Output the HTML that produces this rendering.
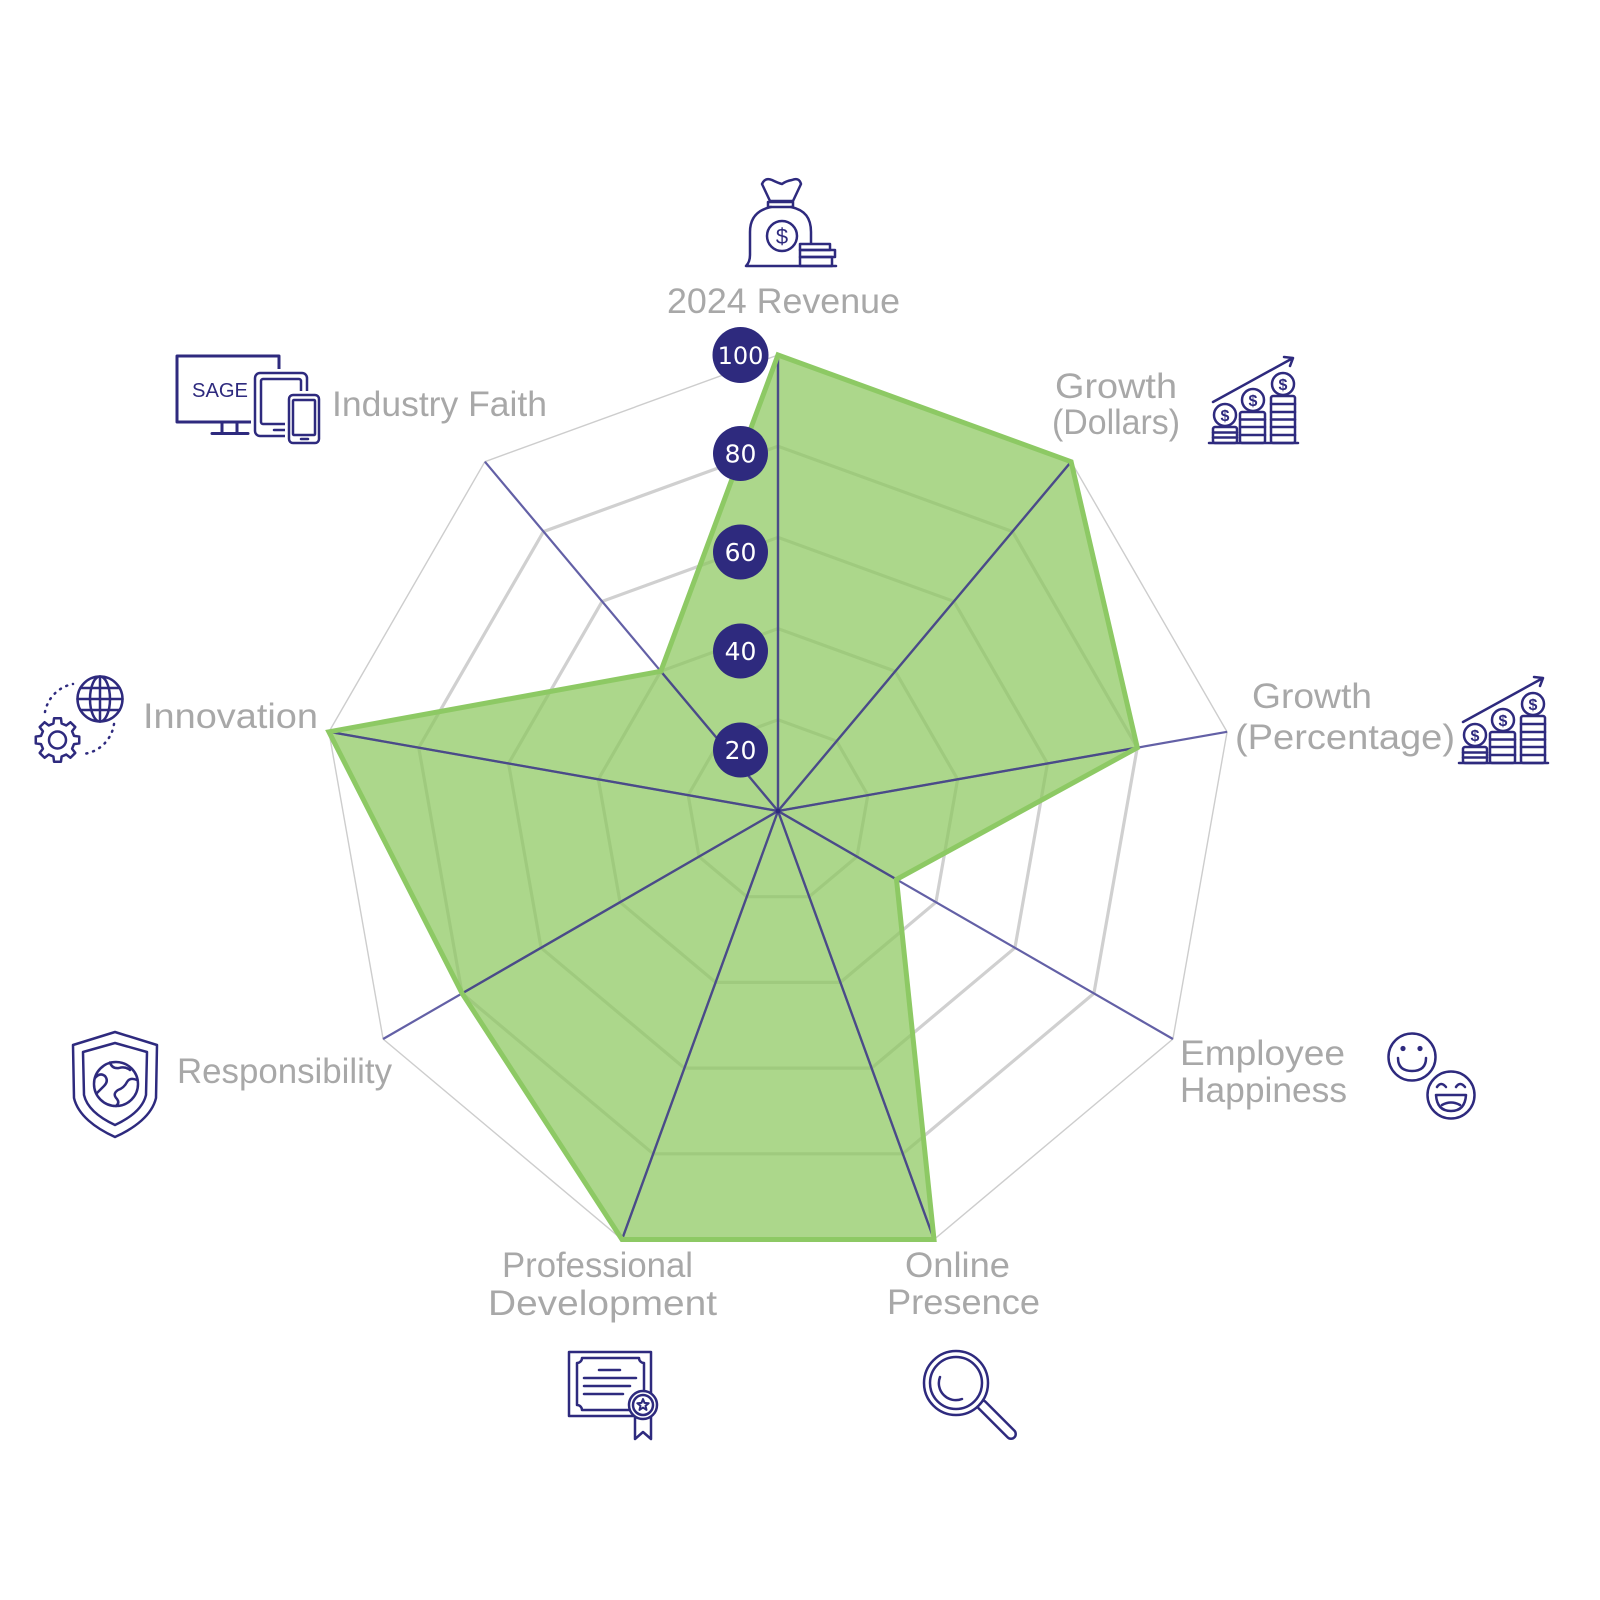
<!DOCTYPE html>
<html>
<head>
<meta charset="utf-8">
<style>
html,body{margin:0;padding:0;background:#fff;}
svg{display:block;}
.lbl{font-family:"Liberation Sans",sans-serif;font-size:35px;fill:#a8a8a8;}
.num{font-family:"DejaVu Sans","Liberation Sans",sans-serif;font-size:25px;fill:#fff;text-anchor:middle;}
.ic{fill:none;stroke:#2e2a7e;stroke-width:2.5;stroke-linecap:round;stroke-linejoin:round;}
.icw{fill:#fff;stroke:#2e2a7e;stroke-width:2.5;stroke-linecap:round;stroke-linejoin:round;}
</style>
</head>
<body>
<svg width="1600" height="1600" viewBox="0 0 1600 1600" xmlns="http://www.w3.org/2000/svg">
<defs>
<clipPath id="dataclip">
<polygon points="778,355 1071.1,461.7 1137.3,747.7 896.5,879.4 934,1239.5 622,1239.5 462.1,993.4 328.9,731.8 660.8,671.3"/>
</clipPath>
</defs>
<rect width="1600" height="1600" fill="#fff"/>

<!-- grid rings -->
<g transform="translate(778,811)" fill="none">
<polygon transform="scale(456)" vector-effect="non-scaling-stroke" stroke="#cdcdcd" stroke-width="1.4" points="0,-1 0.6428,-0.7660 0.9848,-0.1736 0.8660,0.5 0.3420,0.9397 -0.3420,0.9397 -0.8660,0.5 -0.9848,-0.1736 -0.6428,-0.7660"/>
<polygon transform="scale(364.8)" vector-effect="non-scaling-stroke" stroke="#d0d0d0" stroke-width="3.2" points="0,-1 0.6428,-0.7660 0.9848,-0.1736 0.8660,0.5 0.3420,0.9397 -0.3420,0.9397 -0.8660,0.5 -0.9848,-0.1736 -0.6428,-0.7660"/>
<polygon transform="scale(273.6)" vector-effect="non-scaling-stroke" stroke="#d0d0d0" stroke-width="3.2" points="0,-1 0.6428,-0.7660 0.9848,-0.1736 0.8660,0.5 0.3420,0.9397 -0.3420,0.9397 -0.8660,0.5 -0.9848,-0.1736 -0.6428,-0.7660"/>
<polygon transform="scale(182.4)" vector-effect="non-scaling-stroke" stroke="#d0d0d0" stroke-width="3.2" points="0,-1 0.6428,-0.7660 0.9848,-0.1736 0.8660,0.5 0.3420,0.9397 -0.3420,0.9397 -0.8660,0.5 -0.9848,-0.1736 -0.6428,-0.7660"/>
<polygon transform="scale(91.2)" vector-effect="non-scaling-stroke" stroke="#d0d0d0" stroke-width="3.2" points="0,-1 0.6428,-0.7660 0.9848,-0.1736 0.8660,0.5 0.3420,0.9397 -0.3420,0.9397 -0.8660,0.5 -0.9848,-0.1736 -0.6428,-0.7660"/>
</g>

<!-- data fill -->
<polygon fill="#8cc85e" fill-opacity="0.72" points="778,355 1071.1,461.7 1137.3,747.7 896.5,879.4 934,1239.5 622,1239.5 462.1,993.4 328.9,731.8 660.8,671.3"/>

<!-- axes -->
<g stroke="#6360a6" stroke-width="2.2">
<line x1="778" y1="811" x2="778" y2="355"/>
<line x1="778" y1="811" x2="1071.1" y2="461.7"/>
<line x1="778" y1="811" x2="1227.1" y2="731.8"/>
<line x1="778" y1="811" x2="1172.9" y2="1039"/>
<line x1="778" y1="811" x2="934" y2="1239.5"/>
<line x1="778" y1="811" x2="622" y2="1239.5"/>
<line x1="778" y1="811" x2="383.1" y2="1039"/>
<line x1="778" y1="811" x2="328.9" y2="731.8"/>
<line x1="778" y1="811" x2="484.9" y2="461.7"/>
</g>
<g stroke="#4a4b88" stroke-width="2.3" clip-path="url(#dataclip)">
<line x1="778" y1="811" x2="778" y2="355"/>
<line x1="778" y1="811" x2="1071.1" y2="461.7"/>
<line x1="778" y1="811" x2="1227.1" y2="731.8"/>
<line x1="778" y1="811" x2="1172.9" y2="1039"/>
<line x1="778" y1="811" x2="934" y2="1239.5"/>
<line x1="778" y1="811" x2="622" y2="1239.5"/>
<line x1="778" y1="811" x2="383.1" y2="1039"/>
<line x1="778" y1="811" x2="328.9" y2="731.8"/>
<line x1="778" y1="811" x2="484.9" y2="461.7"/>
</g>
<circle cx="778" cy="811" r="2.5" fill="#2e2a7e"/>

<!-- data stroke -->
<polygon fill="none" stroke="#8dc964" stroke-width="5" stroke-linejoin="miter" stroke-miterlimit="3" points="778,355 1071.1,461.7 1137.3,747.7 896.5,879.4 934,1239.5 622,1239.5 462.1,993.4 328.9,731.8 660.8,671.3"/>

<!-- scale markers -->
<g fill="#2e2a7e">
<circle cx="740.5" cy="355" r="28"/>
<circle cx="740.5" cy="453.5" r="27.5"/>
<circle cx="740.5" cy="552" r="27.5"/>
<circle cx="740.5" cy="651" r="27.5"/>
<circle cx="740.5" cy="750" r="27.5"/>
</g>
<text class="num" x="740.5" y="364" style="font-size:24px">100</text>
<text class="num" x="740.5" y="462.5">80</text>
<text class="num" x="740.5" y="561">60</text>
<text class="num" x="740.5" y="660">40</text>
<text class="num" x="740.5" y="759">20</text>

<!-- labels -->
<text class="lbl" x="667" y="313" textLength="233" lengthAdjust="spacingAndGlyphs">2024 Revenue</text>
<text class="lbl" x="332" y="416" textLength="215" lengthAdjust="spacingAndGlyphs">Industry Faith</text>
<text class="lbl" x="1055" y="398" textLength="122" lengthAdjust="spacingAndGlyphs">Growth</text>
<text class="lbl" x="1052" y="434" textLength="128" lengthAdjust="spacingAndGlyphs">(Dollars)</text>
<text class="lbl" x="1252" y="708" textLength="120" lengthAdjust="spacingAndGlyphs">Growth</text>
<text class="lbl" x="1235" y="749" textLength="220" lengthAdjust="spacingAndGlyphs">(Percentage)</text>
<text class="lbl" x="143" y="728" textLength="175" lengthAdjust="spacingAndGlyphs">Innovation</text>
<text class="lbl" x="177" y="1083" textLength="215" lengthAdjust="spacingAndGlyphs">Responsibility</text>
<text class="lbl" x="1180" y="1065" textLength="165" lengthAdjust="spacingAndGlyphs">Employee</text>
<text class="lbl" x="1180" y="1102" textLength="167" lengthAdjust="spacingAndGlyphs">Happiness</text>
<text class="lbl" x="502" y="1277" textLength="191" lengthAdjust="spacingAndGlyphs">Professional</text>
<text class="lbl" x="488" y="1315" textLength="229" lengthAdjust="spacingAndGlyphs">Development</text>
<text class="lbl" x="905" y="1277" textLength="105" lengthAdjust="spacingAndGlyphs">Online</text>
<text class="lbl" x="887" y="1314" textLength="153" lengthAdjust="spacingAndGlyphs">Presence</text>

<!-- money bag icon -->
<g class="ic">
<path d="M762,184 Q765,177 772,180 Q778,183 782,184 Q786,181 792,180 Q799,177 801,184 L793,201 L770,201 Z"/>
<rect x="768" y="202" width="25" height="5"/>
<path d="M771,207 C757,210 750,218 750,232 L750,255 Q750,262 746,266 L836,266"/>
<path d="M791,207 C805,210 811,218 811,232 L811,243"/>
<rect x="800" y="244" width="30" height="6"/>
<rect x="800" y="250" width="35" height="7"/>
<rect x="800" y="257" width="32" height="9"/>
<circle cx="782" cy="236" r="15"/>
</g>
<text x="782" y="244" text-anchor="middle" style="font-family:'Liberation Sans',sans-serif;font-size:22px;fill:#2e2a7e">$</text>

<!-- industry faith icon -->
<g class="ic">
<rect x="177" y="356" width="102" height="66" stroke-width="3"/>
<path d="M222,422 L222,433 M237,422 L237,433 M212,433.5 L248,433.5" stroke-width="3"/>
<rect x="255" y="373" width="52" height="63" rx="5" fill="#fff" stroke="#fff" stroke-width="8"/>
<rect x="255" y="373" width="52" height="63" rx="5" fill="#fff"/>
<rect x="261" y="379" width="40" height="45" rx="2"/>
<path d="M274,430 L285,430"/>
<rect x="289" y="395" width="30" height="48" rx="4" fill="#fff" stroke="#fff" stroke-width="8"/>
<rect x="289" y="395" width="30" height="48" rx="4" fill="#fff"/>
<rect x="293" y="400" width="22" height="35" rx="1"/>
<path d="M301,439 L308,439"/>
</g>
<text x="192" y="397" textLength="56" lengthAdjust="spacingAndGlyphs" style="font-family:'Liberation Sans',sans-serif;font-size:20px;fill:#2e2a7e">SAGE</text>

<!-- growth dollars icon -->
<g id="growth">
<g class="ic">
<path d="M1213,402 L1293,358 M1284,357 L1293,358 L1290,366"/>
<path d="M1209,443 L1298,443"/>
<rect x="1213" y="427" width="24" height="16" rx="2"/>
<path d="M1213,432.5 L1237,432.5 M1213,437.5 L1237,437.5"/>
<circle cx="1225" cy="415" r="11"/>
<rect x="1240" y="412" width="25" height="31" rx="2"/>
<path d="M1240,419.5 L1265,419.5 M1240,427 L1265,427 M1240,435 L1265,435"/>
<circle cx="1253" cy="400" r="11"/>
<rect x="1271" y="396" width="24" height="47" rx="2"/>
<path d="M1271,404 L1295,404 M1271,412 L1295,412 M1271,419.5 L1295,419.5 M1271,427 L1295,427 M1271,435 L1295,435"/>
<circle cx="1283" cy="384" r="11"/>
</g>
<g style="font-family:'Liberation Sans',sans-serif;font-size:16px;font-weight:bold;fill:#2e2a7e" text-anchor="middle">
<text x="1225" y="421">$</text>
<text x="1253" y="406">$</text>
<text x="1283" y="390">$</text>
</g>
</g>
<!-- growth percentage icon -->
<g transform="translate(250,320)">
<g class="ic">
<path d="M1213,402 L1293,358 M1284,357 L1293,358 L1290,366"/>
<path d="M1209,443 L1298,443"/>
<rect x="1213" y="427" width="24" height="16" rx="2"/>
<path d="M1213,432.5 L1237,432.5 M1213,437.5 L1237,437.5"/>
<circle cx="1225" cy="415" r="11"/>
<rect x="1240" y="412" width="25" height="31" rx="2"/>
<path d="M1240,419.5 L1265,419.5 M1240,427 L1265,427 M1240,435 L1265,435"/>
<circle cx="1253" cy="400" r="11"/>
<rect x="1271" y="396" width="24" height="47" rx="2"/>
<path d="M1271,404 L1295,404 M1271,412 L1295,412 M1271,419.5 L1295,419.5 M1271,427 L1295,427 M1271,435 L1295,435"/>
<circle cx="1283" cy="384" r="11"/>
</g>
<g style="font-family:'Liberation Sans',sans-serif;font-size:16px;font-weight:bold;fill:#2e2a7e" text-anchor="middle">
<text x="1225" y="421">$</text>
<text x="1253" y="406">$</text>
<text x="1283" y="390">$</text>
</g>
</g>

<!-- innovation icon -->
<g class="ic">
<path d="M45,712 A35,35 0 0 1 73,684" stroke-dasharray="1 6"/>
<path d="M114,724 A35,35 0 0 1 83,754" stroke-dasharray="1 6"/>
<circle cx="100" cy="699" r="22.5"/>
<ellipse cx="100" cy="699" rx="10" ry="22.5"/>
<path d="M100,676.5 L100,721.5 M77.5,699 L122.5,699 M80.4,688 L119.6,688 M80.4,710 L119.6,710"/>
<polygon transform="translate(57.5,740)" points="16.5,-4.11 21.73,-3.44 21.73,3.44 16.5,4.11 14.57,8.76 17.8,12.93 12.93,17.8 8.76,14.57 4.11,16.5 3.44,21.73 -3.44,21.73 -4.11,16.5 -8.76,14.57 -12.93,17.8 -17.8,12.93 -14.57,8.76 -16.5,4.11 -21.73,3.44 -21.73,-3.44 -16.5,-4.11 -14.57,-8.76 -17.8,-12.93 -12.93,-17.8 -8.76,-14.57 -4.11,-16.5 -3.44,-21.73 3.44,-21.73 4.11,-16.5 8.76,-14.57 12.93,-17.8 17.8,-12.93 14.57,-8.76"/>
<circle cx="57.5" cy="740" r="8.5"/>
</g>

<!-- responsibility icon -->
<g class="ic">
<path d="M115,1032 L157,1045 L156,1098 C152,1115 135,1128 115,1137 C95,1128 78,1115 74,1098 L73,1045 Z"/>
<path d="M115,1043 L147,1052 L146,1095 C143,1108 130,1118 115,1125 C100,1118 87,1108 84,1095 L83,1052 Z"/>
<circle cx="116" cy="1084" r="22"/>
<path d="M95,1078 Q100,1072 105,1076 Q109,1081 104,1086 Q100,1090 97,1093"/>
<path d="M110,1062.5 Q112,1069 119,1068 Q125,1066 130,1070"/>
<path d="M137,1080 Q130,1077 127,1082 Q124,1088 118,1090 Q112,1094 117,1099 Q120,1103 116,1106"/>
</g>

<!-- employee happiness icon -->
<g class="ic">
<circle cx="1412" cy="1057" r="23.5"/>
<path d="M1398,1058 Q1398,1071 1412,1071 Q1426,1071 1426,1058"/>
<circle cx="1451" cy="1095" r="23.5" fill="#fff"/>
<path d="M1437,1087 Q1441,1081 1446,1087 M1456,1087 Q1460,1081 1465,1087"/>
<path d="M1436,1095 L1466,1095 Q1465,1111 1451,1111 Q1437,1111 1436,1095 Z"/>
<path d="M1442,1105 Q1451,1100 1460,1105"/>
</g>
<g fill="#2e2a7e">
<circle cx="1403" cy="1048.5" r="2.6"/>
<circle cx="1420" cy="1048.5" r="2.6"/>
</g>

<!-- certificate icon -->
<g class="ic">
<rect x="569" y="1352" width="82" height="64"/>
<path d="M582,1358 L639,1358 A5,5 0 0 0 644,1363 L644,1405 A5,5 0 0 0 639,1410 L582,1410 A5,5 0 0 0 577,1405 L577,1363 A5,5 0 0 0 582,1358 Z"/>
<path d="M599,1370 L620,1370 M584,1378 L636,1378 M584,1386 L630,1386 M584,1394 L623,1394"/>
<path d="M635,1414 L635,1439 L643,1432 L651,1439 L651,1414" fill="#fff"/>
<circle cx="643" cy="1405" r="14" fill="#fff"/>
<circle cx="643" cy="1405" r="10"/>
<polygon stroke-width="2" points="643,1399 644.5,1402.9 648.7,1403.2 645.5,1405.8 646.5,1409.9 643,1407.6 639.5,1409.9 640.5,1405.8 637.3,1403.2 641.5,1402.9"/>
</g>

<!-- magnifier icon -->
<g class="ic">
<path d="M982,1405 L1011,1434" stroke-width="12"/>
<path d="M982,1405 L1011,1434" stroke="#fff" stroke-width="7"/>
<circle cx="956" cy="1383" r="32" fill="#fff"/>
<circle cx="956" cy="1383" r="26"/>
<path d="M940,1377 A17,17 0 0 0 962,1399"/>
</g>
</svg>
</body>
</html>
